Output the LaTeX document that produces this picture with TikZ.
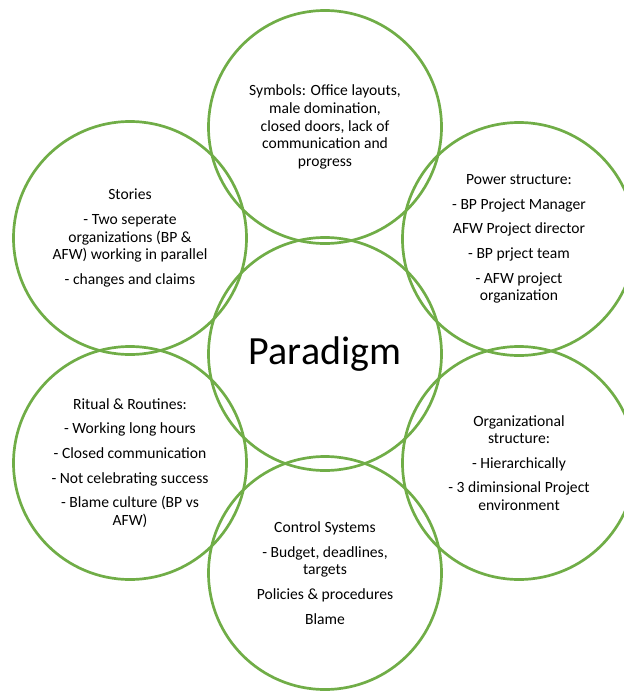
\documentclass[tikz,border=0pt]{standalone}
\usepackage{fontspec}
\setmainfont{Carlito}
\usepackage{tikz}
\definecolor{leafgreen}{HTML}{70AD47}
\tikzset{
  bubble/.style={circle, draw=leafgreen, line width=2.7pt, minimum size=233pt,
    inner sep=0pt, align=center, font=\fontsize{15.6}{17.6}\selectfont},
}
\newcommand{\itemgap}{\\[7pt]}

\begin{document}
\begin{tikzpicture}[x=1pt,y=-1pt]
		%%%%% START %%%%%
		\useasboundingbox (0,0) rectangle (624,691);
		\clip (0,0) rectangle (624,691);
		
		\node[bubble] (paradigm) at (325,354) {\fontsize{40}{44}\selectfont Paradigm};
		
		\node[bubble] (symbols) at (325,127) {Symbols: Office layouts,\\ male domination,\\ closed doors, lack of\\ communication and\\ progress};
		\node[bubble] (power) at (519,239) {Power structure:\itemgap - BP Project Manager\itemgap AFW Project director\itemgap - BP prject team\itemgap - AFW project\\ organization};
		\node[bubble] (orgstruct) at (519,463) {Organizational\\ structure:\itemgap - Hierarchically\itemgap - 3 diminsional Project\\ environment};
		\node[bubble] (control) at (325,573) {Control Systems\itemgap - Budget, deadlines,\\ targets\itemgap Policies \& procedures\itemgap Blame};
		\node[bubble] (rituals) at (130,463) {Ritual \& Routines:\itemgap - Working long hours\itemgap - Closed communication\itemgap - Not celebrating success\itemgap - Blame culture (BP vs\\ AFW)};
		\node[bubble] (stories) at (130,238) {Stories\itemgap - Two seperate\\ organizations (BP \&\\ AFW) working in parallel\itemgap - changes and claims};
		
		%%%%% END %%%%%
	\end{tikzpicture}
\end{document}
